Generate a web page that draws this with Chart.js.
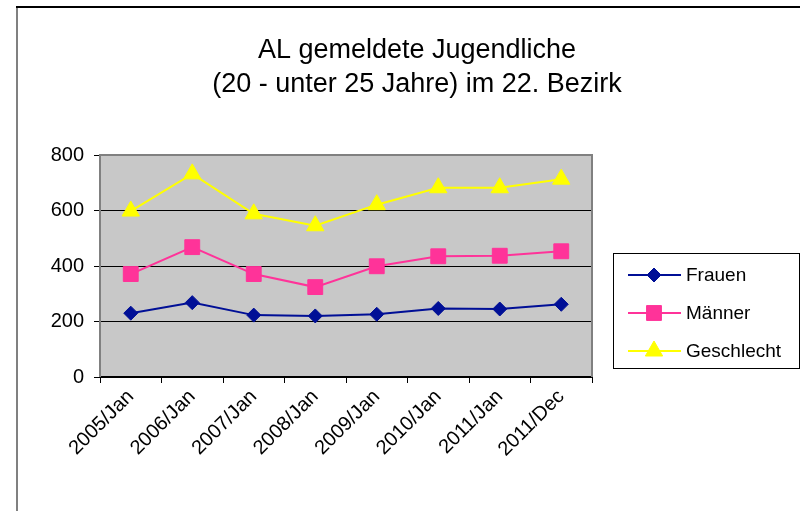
<!DOCTYPE html>
<html>
<head>
<meta charset="utf-8">
<script src="https://cdn.jsdelivr.net/npm/chart.js@4"></script>
<style>
  html, body { margin: 0; padding: 0; background: #fff; }
  #wrap { width: 800px; height: 511px; }
</style>
</head>
<body>
<div id="wrap"><canvas id="chart" width="800" height="511"></canvas></div>
<script>
const categories = ['2005/Jan', '2006/Jan', '2007/Jan', '2008/Jan', '2009/Jan', '2010/Jan', '2011/Jan', '2011/Dec'];
const frauen = [230, 268, 223, 220, 226, 247, 245, 262];
const maenner = [371, 468, 371, 324, 399, 435, 437, 453];
const geschlecht = [598, 732, 588, 545, 621, 682, 682, 713];
const titleLines = ['AL gemeldete Jugendliche', '(20 - unter 25 Jahre) im 22. Bezirk'];
const yTicks = [0, 200, 400, 600, 800];

const FONT = 'Arial, "Liberation Sans", sans-serif';

// gray plot area, frame, title and boxed legend like the old Excel chart
const excelLook = {
  id: 'excelLook',
  beforeDatasetsDraw(chart) {
    const { ctx, chartArea: a } = chart;
    ctx.save();
    ctx.strokeStyle = '#808080';
    ctx.lineWidth = 2;
    ctx.beginPath();
    ctx.moveTo(a.left, a.bottom);
    ctx.lineTo(a.left, a.top);
    ctx.lineTo(a.right, a.top);
    ctx.lineTo(a.right, a.bottom);
    ctx.stroke();
    ctx.restore();
  },
  beforeDraw(chart) {
    const { ctx, chartArea: a } = chart;
    ctx.save();
    ctx.fillStyle = '#c8c8c8';
    ctx.fillRect(a.left, a.top, a.right - a.left, a.bottom - a.top);

    // outer frame (only top and left visible)
    ctx.strokeStyle = '#808080';
    ctx.lineWidth = 2;
    ctx.beginPath();
    ctx.moveTo(17, 511);
    ctx.lineTo(17, 7);
    ctx.stroke();
    ctx.strokeStyle = '#000';
    ctx.beginPath();
    ctx.moveTo(16, 7);
    ctx.lineTo(800, 7);
    ctx.stroke();

    // title
    ctx.fillStyle = '#000';
    ctx.font = '27px ' + FONT;
    ctx.textAlign = 'center';
    ctx.textBaseline = 'alphabetic';
    ctx.fillText(titleLines[0], 417, 58);
    ctx.fillText(titleLines[1], 417, 92);
    ctx.restore();
  },
  afterDraw(chart) {
    const { ctx } = chart;
    ctx.save();
    ctx.strokeStyle = '#000';
    ctx.lineWidth = 1;
    ctx.strokeRect(613.5, 253.5, 186, 115);
    ctx.font = '19px ' + FONT;
    ctx.textAlign = 'left';
    ctx.textBaseline = 'middle';
    chart.data.datasets.forEach((ds, i) => {
      const y = 275 + i * 38;
      ctx.strokeStyle = ds.borderColor;
      ctx.fillStyle = ds.borderColor;
      ctx.lineWidth = ds.borderWidth;
      ctx.beginPath();
      ctx.moveTo(628, y);
      ctx.lineTo(681, y);
      ctx.stroke();
      ctx.lineWidth = 1;
      Chart.helpers.drawPoint(ctx, {
        pointStyle: ds.pointStyle,
        radius: ds.pointRadius,
        borderWidth: 1,
        rotation: 0
      }, 654, y);
      ctx.fillStyle = '#000';
      ctx.fillText(ds.label, 686, y + 1);
    });
    ctx.restore();
  }
};

function series(label, data, color, style, radius) {
  return {
    label: label,
    data: data,
    borderColor: color,
    backgroundColor: color,
    pointBackgroundColor: color,
    pointBorderColor: color,
    borderWidth: 2,
    pointBorderWidth: 1,
    pointStyle: style,
    pointRadius: radius,
    pointHoverRadius: radius,
    tension: 0
  };
}

new Chart(document.getElementById('chart'), {
  type: 'line',
  data: {
    labels: categories,
    datasets: [
      series('Frauen', frauen, '#000f96', 'rectRot', 7),
      series('Männer', maenner, '#ff3399', 'rect', 10.5),
      series('Geschlecht', geschlecht, '#ffff00', 'triangle', 10)
    ]
  },
  options: {
    responsive: false,
    animation: false,
    layout: { padding: { left: 0, top: 155, right: 208, bottom: 0 } },
    plugins: {
      legend: { display: false },
      title: { display: false },
      tooltip: { enabled: false }
    },
    scales: {
      x: {
        offset: true,
        afterFit(scale) { scale.height = 134; },
        grid: {
          offset: true,
          drawOnChartArea: false,
          drawTicks: true,
          tickLength: 6,
          color: '#000'
        },
        border: { color: '#000', width: 2 },
        ticks: {
          color: '#000',
          font: { family: FONT, size: 20 },
          minRotation: 45,
          maxRotation: 45,
          padding: 2
        }
      },
      y: {
        min: 0,
        max: 800,
        afterFit(scale) { scale.width = 100; },
        afterBuildTicks(scale) { scale.ticks = yTicks.map(v => ({ value: v })); },
        grid: {
          color: ctx => (ctx.tick && ctx.tick.value === 800 ? 'rgba(0,0,0,0)' : '#000'),
          tickColor: '#000',
          tickLength: 6,
          lineWidth: 1
        },
        border: { color: '#000', width: 2 },
        ticks: {
          color: '#000',
          font: { family: FONT, size: 20 },
          padding: 10
        }
      }
    }
  },
  plugins: [excelLook]
});
</script>
</body>
</html>
